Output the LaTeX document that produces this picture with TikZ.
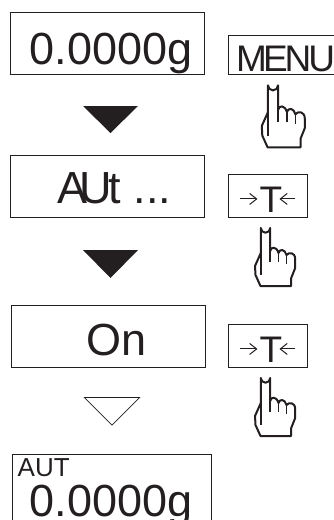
\documentclass[tikz,border=0pt]{standalone}
\usepackage{fontspec}
\usetikzlibrary{arrows.meta}
\setmainfont{Liberation Sans}
\definecolor{inkline}{RGB}{35,31,32}
\tikzset{
    display/.style={draw=inkline,line width=0.9pt,minimum width=194pt,minimum height=62pt,inner sep=0pt,anchor=north west},
    readout/.style={inner sep=0pt,anchor=base west,text=inkline,font=\fontsize{45}{45}\selectfont},
    keybox/.style={draw=inkline,line width=0.9pt,minimum width=79pt,minimum height=43pt,inner sep=0pt,anchor=north west},
    keytext/.style={inner sep=0pt,anchor=base west,text=inkline,font=\fontsize{37}{37}\selectfont},
    keyarrow/.style={inkline,line width=1pt,-{Straight Barb[length=7pt,width=11pt]}},
    pointer/.pic={
        \draw[inkline,line width=2pt,line join=round,fill=white] (-4.7,5) arc[start angle=180,end angle=0,radius=4.7] -- (4.7,28)
            .. controls (5.5,23.5) and (11,23) .. (13,30)
            .. controls (14,25.5) and (19.5,26) .. (21,32)
            .. controls (23,29) and (29.7,29) .. (29.7,36) -- (29.7,45)
            -- (25.7,55) -- (25.7,63) -- (-5,63) -- (-10,52) -- (-10.5,43) -- (-4.7,30) -- cycle;
        \draw[inkline,line width=1.5pt] (-4.7,30) -- (-4.7,52);
        \draw[inkline,line width=1.5pt] (4.7,28) -- (4.7,39);
        \draw[inkline,line width=1.5pt] (13,30) -- (13,39);
        \draw[inkline,line width=1.5pt] (21,32) -- (21,41);
    }
}
\begin{document}
\begin{tikzpicture}[x=1pt,y=-1pt]
    \useasboundingbox (0,0) rectangle (334,520);

    % displays
    \node[display] (disp1) at (10,12) {};
    \node[readout] (val1) at (29.5,64.5) {0.0000g};
    \node[display] (disp2) at (10,155) {};
    \node[readout] (val2) at (57,203) {A\kern-8pt U\kern-3pt t ...};
    \node[display] (disp3) at (10.5,305) {};
    \node[readout] (val3) at (86,355) {On};

    % arrows down
    \fill[inkline] (83,106) -- (138,106) -- (110.5,133) -- cycle;
    \fill[inkline] (83,250) -- (138,250) -- (110.5,278) -- cycle;
    \draw[inkline,line width=0.7pt] (84.5,397.5) -- (139.5,397.5) -- (112,425) -- cycle;

    % keys
    \begin{scope}
        \clip (220,30) rectangle (334,80);
        \node[keybox,minimum width=120pt,minimum height=39pt] (keymenu) at (228,35) {};
        \node[keytext] (menutext) at (236,71.5) {M\kern-4pt E\kern-3pt N\kern-3pt U};
    \end{scope}
    \foreach \name/\ytop in {keya/174,keyb/324} {
        \node[keybox] (\name) at (228,\ytop) {};
        \node[keytext,anchor=base] (\name t) at ([shift={(3,16.5)}]\name.center) {T};
        \coordinate (\name l) at ([shift={(-27.5,3)}]\name.center);
        \coordinate (\name m) at ([shift={(-10.5,3)}]\name.center);
        \coordinate (\name r) at ([shift={(27.5,3)}]\name.center);
        \coordinate (\name n) at ([shift={(11.5,3)}]\name.center);
        \draw[keyarrow] (\name l) -- (\name m);
        \draw[keyarrow] (\name r) -- (\name n);
    }

    % hands
    \pic[scale=1.07] at (273,80) {pointer};
    \pic at (265.5,223) {pointer};
    \pic at (265.5,373) {pointer};

    % last display
    \begin{scope}
        \clip (0,440) rectangle (334,520);
        \node[display,minimum width=199pt,minimum height=80pt] (disp4) at (12,454) {};
        \node[readout,font=\fontsize{26}{26}\selectfont] (autlabel) at (17.5,476.7) {AUT};
        \node[readout] (val4) at (29.5,516.5) {0.0000g};
    \end{scope}
\end{tikzpicture}
\end{document}
